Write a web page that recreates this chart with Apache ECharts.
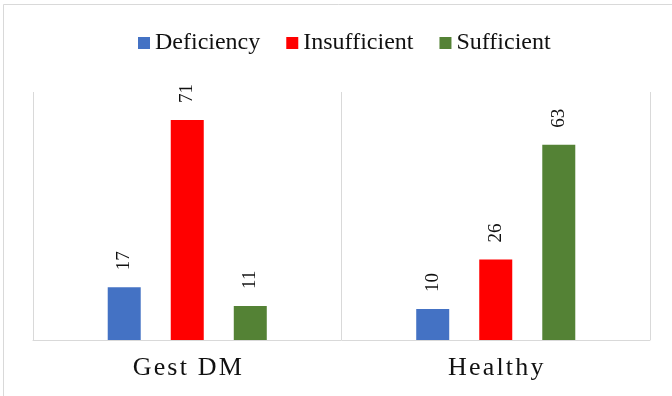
<!DOCTYPE html>
<html>
<head>
<meta charset="utf-8">
<script src="https://cdn.jsdelivr.net/npm/echarts@6/dist/echarts.min.js"></script>
<style>
  html, body { margin: 0; padding: 0; background: #fff; }
  #chart { width: 672px; height: 396px; }
</style>
</head>
<body>
<div id="chart"></div>
<script>
// Vitamin D status (%) by group
const groups = ['Gest DM', 'Healthy'];
const seriesNames = ['Deficiency', 'Insufficient', 'Sufficient'];
const deficiency = [17, 10];
const insufficient = [71, 26];
const sufficient = [11, 63];
const colors = ['#4472C4', '#FF0000', '#548235'];

const values = [deficiency, insufficient, sufficient];
const serif = 'Liberation Serif, Times New Roman, serif';

const chart = echarts.init(document.getElementById('chart'), null, { renderer: 'canvas' });

chart.setOption({
  animation: false,
  backgroundColor: '#fff',
  graphic: [{
    type: 'rect',
    shape: { x: 3.5, y: 4.5, width: 720, height: 500 },
    style: { fill: 'none', stroke: '#d9d9d9', lineWidth: 1 },
    silent: true
  }],
  legend: {
    left: 133,
    top: 26,
    itemWidth: 12,
    itemHeight: 12,
    itemGap: 26,
    icon: 'rect',
    textStyle: { fontFamily: serif, fontSize: 24, color: '#111' },
    data: seriesNames
  },
  grid: { left: 33, right: 22, top: 92, bottom: 56, containLabel: false },
  xAxis: {
    type: 'category',
    data: groups,
    axisLine: { show: true, lineStyle: { color: '#d9d9d9', width: 1 } },
    axisTick: { show: false },
    splitLine: { show: true, lineStyle: { color: '#d9d9d9', width: 1 } },
    axisLabel: {
      margin: 15,
      fontFamily: serif,
      fontSize: 26,
      color: '#111',
      // spread the letters slightly apart
      formatter: v => v.split('').join('\u200A')
    }
  },
  yAxis: {
    type: 'value',
    min: 0,
    max: 80,
    show: false
  },
  series: seriesNames.map((name, i) => ({
    name,
    type: 'bar',
    data: values[i],
    barWidth: 33,
    barGap: '91%',
    itemStyle: { color: colors[i] },
    label: {
      show: true,
      position: 'top',
      rotate: 90,
      align: 'left',
      verticalAlign: 'middle',
      distance: 17,
      fontFamily: serif,
      fontSize: 19,
      color: '#111'
    }
  }))
});
</script>
</body>
</html>
